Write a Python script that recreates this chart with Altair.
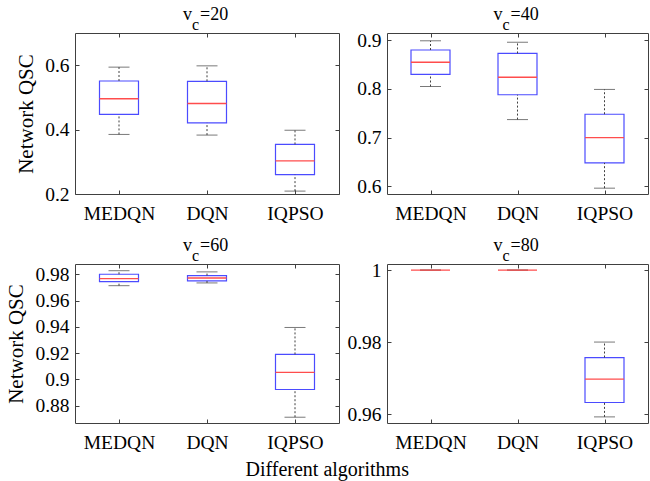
import altair as alt
import pandas as pd

FONT = "'Liberation Serif', 'Times New Roman', Times, 'DejaVu Serif', serif"
BLUE = "#4b4bff"
RED = "#ff4d4d"
INK = "#404040"

algorithms = ["MEDQN", "DQN", "IQPSO"]
vc_levels = [20, 40, 60, 80]

# Five-number summaries (lower whisker, Q1, median, Q3, upper whisker) per algorithm
vc20_lo = [0.385, 0.383, 0.209]
vc20_q1 = [0.447, 0.421, 0.260]
vc20_med = [0.496, 0.481, 0.303]
vc20_q3 = [0.551, 0.550, 0.354]
vc20_hi = [0.594, 0.598, 0.398]

vc40_lo = [0.805, 0.737, 0.596]
vc40_q1 = [0.830, 0.788, 0.648]
vc40_med = [0.855, 0.824, 0.700]
vc40_q3 = [0.880, 0.873, 0.748]
vc40_hi = [0.899, 0.896, 0.799]

vc60_lo = [0.9713, 0.9734, 0.8712]
vc60_q1 = [0.9744, 0.9749, 0.8923]
vc60_med = [0.9767, 0.9772, 0.9053]
vc60_q3 = [0.9800, 0.9790, 0.9190]
vc60_hi = [0.9827, 0.9818, 0.9395]

vc80_lo = [1.0, 1.0, 0.9592]
vc80_q1 = [1.0, 1.0, 0.9632]
vc80_med = [1.0, 1.0, 0.9697]
vc80_q3 = [1.0, 1.0, 0.9757]
vc80_hi = [1.0, 1.0, 0.9800]

# Axis ranges and tick values for each panel
vc20_domain, vc20_ticks = [0.2, 0.7], [0.2, 0.4, 0.6]
vc40_domain, vc40_ticks = [0.584, 0.915], [0.6, 0.7, 0.8, 0.9]
vc60_domain, vc60_ticks = [0.8668, 0.9878], [0.88, 0.9, 0.92, 0.94, 0.96, 0.98]
vc80_domain, vc80_ticks = [0.9575, 1.0017], [0.96, 0.98, 1.0]


def panel(vc, lo, q1, med, q3, hi, domain, ticks, width, height, ytitle):
    df = pd.DataFrame({"alg": algorithms, "lo": lo, "q1": q1, "med": med, "q3": q3, "hi": hi})
    base = alt.Chart(df)
    xs = alt.Scale(type="point", domain=algorithms, padding=0.5)
    ys = alt.Scale(domain=domain, nice=False, zero=False)

    y_kwargs = dict(orient="left", values=ticks, format=".2~f", domain=False, grid=False,
                    offset=-4, tickSize=4, tickColor=INK, labelPadding=6,
                    labelFont=FONT, labelFontSize=19.5, labelColor="black")
    if ytitle:
        y_kwargs.update(title=ytitle, titleFont=FONT, titleFontSize=21,
                        titleFontWeight="normal", titleColor="black", titlePadding=8)
    else:
        y_kwargs.update(title=None)
    x_axis = alt.Axis(orient="bottom", title=None, labelAngle=0, domain=False, grid=False,
                      offset=-4, tickSize=4, tickColor=INK, labelPadding=10,
                      labelFont=FONT, labelFontSize=19.5, labelColor="black")

    # a collapsed box (Q1 == Q3) shows only its median line
    box = base.mark_bar(size=39, fillOpacity=0, stroke=BLUE, strokeWidth=1.2).encode(
        x=alt.X("alg:N", scale=xs, axis=x_axis),
        y=alt.Y("q1:Q", scale=ys, axis=alt.Axis(**y_kwargs)),
        y2="q3:Q",
        strokeOpacity=alt.condition("datum.q3 > datum.q1", alt.value(1), alt.value(0)),
    )
    whisk_hi = base.mark_rule(color=INK, strokeDash=[2, 2], strokeWidth=1).encode(
        x=alt.X("alg:N", scale=xs, axis=None),
        y=alt.Y("q3:Q", scale=ys, axis=None), y2="hi:Q")
    whisk_lo = base.mark_rule(color=INK, strokeDash=[2, 2], strokeWidth=1).encode(
        x=alt.X("alg:N", scale=xs, axis=None),
        y=alt.Y("lo:Q", scale=ys, axis=None), y2="q1:Q")
    cap_hi = base.mark_tick(size=21, thickness=1, color=INK).encode(
        x=alt.X("alg:N", scale=xs, axis=None), y=alt.Y("hi:Q", scale=ys, axis=None))
    cap_lo = base.mark_tick(size=21, thickness=1, color=INK).encode(
        x=alt.X("alg:N", scale=xs, axis=None), y=alt.Y("lo:Q", scale=ys, axis=None))
    median = base.mark_tick(size=39, thickness=1.4, color=RED, opacity=1).encode(
        x=alt.X("alg:N", scale=xs, axis=None), y=alt.Y("med:Q", scale=ys, axis=None))
    # mirrored tick marks on the top and right edges of the frame
    mirror = base.mark_tick(opacity=0).encode(
        x=alt.X("alg:N", scale=xs, axis=alt.Axis(orient="top", labels=False, title=None,
                                                  domain=False, offset=-4, tickSize=4, tickColor=INK)),
        y=alt.Y("med:Q", scale=ys, axis=alt.Axis(orient="right", labels=False, title=None,
                                                  values=ticks, domain=False, offset=-4,
                                                  tickSize=4, tickColor=INK)))

    # panel heading: v with subscript c, then "=<speed>"
    head = alt.Chart(alt.Data(values=[{"vc": vc}]))
    cx = width / 2
    t_v = head.mark_text(align="right", baseline="alphabetic", font=FONT, fontSize=18,
                         color="black").encode(text=alt.value("v"), x=alt.value(cx - 15),
                                               y=alt.value(-13))
    t_c = head.mark_text(align="left", baseline="alphabetic", font=FONT, fontSize=16,
                         color="black").encode(text=alt.value("c"), x=alt.value(cx - 15),
                                               y=alt.value(-3))
    t_eq = head.transform_calculate(label="'=' + datum.vc").mark_text(
        align="left", baseline="alphabetic", font=FONT, fontSize=18, color="black"
    ).encode(text="label:N", x=alt.value(cx - 7), y=alt.value(-13))

    return alt.layer(box, whisk_hi, whisk_lo, cap_hi, cap_lo, median, mirror, t_v, t_c, t_eq).resolve_axis(
        x="independent", y="independent"
    ).properties(width=width, height=height)


p1 = panel(vc_levels[0], vc20_lo, vc20_q1, vc20_med, vc20_q3, vc20_hi, vc20_domain, vc20_ticks, 264, 161, "Network QSC")
p2 = panel(vc_levels[1], vc40_lo, vc40_q1, vc40_med, vc40_q3, vc40_hi, vc40_domain, vc40_ticks, 261, 161, None)
p3 = panel(vc_levels[2], vc60_lo, vc60_q1, vc60_med, vc60_q3, vc60_hi, vc60_domain, vc60_ticks, 264, 159, "Network QSC")
p4 = panel(vc_levels[3], vc80_lo, vc80_q1, vc80_med, vc80_q3, vc80_hi, vc80_domain, vc80_ticks, 261, 159, None)

chart = alt.concat(
    p1, p2, p3, p4, columns=2, spacing={"row": 70, "column": 48}, bounds="flush",
    title=alt.TitleParams("Different algorithms", orient="bottom", anchor="middle",
                          font=FONT, fontSize=20, fontWeight="normal", color="black", offset=8),
).configure_view(stroke=INK, strokeWidth=1).properties(
    padding={"left": 5, "top": 5, "right": 1, "bottom": 4}, background="white"
)

chart.save("out.html", embed_options={"renderer": "svg", "actions": False})
